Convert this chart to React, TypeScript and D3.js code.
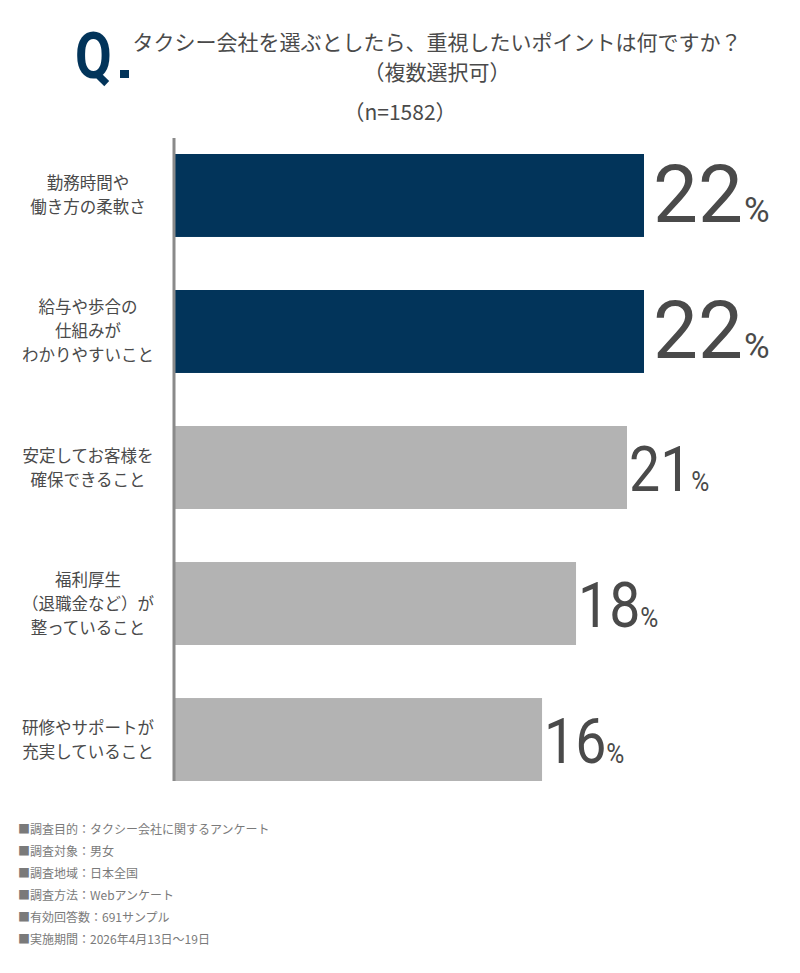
import * as d3 from "d3";

const CATEGORIES = [
  ["勤務時間や", "働き方の柔軟さ"],
  ["給与や歩合の", "仕組みが", "わかりやすいこと"],
  ["安定してお客様を", "確保できること"],
  ["福利厚生", "（退職金など）が", "整っていること"],
  ["研修やサポートが", "充実していること"],
];
const VALUES = [22, 22, 21, 18, 16];
const NOTES = [
  "■調査目的：タクシー会社に関するアンケート",
  "■調査対象：男女",
  "■調査地域：日本全国",
  "■調査方法：Webアンケート",
  "■有効回答数：691サンプル",
  "■実施期間：2026年4月13日～19日",
];

const W = 800;
const H = 973;
const NAVY = "#02345a";
const GRAY = "#b3b3b3";
const TEXT = "#4a4a4a";
const JP = "'Noto Sans CJK JP', 'Noto Sans', sans-serif";
const NUM = "Roboto, 'Noto Sans', sans-serif";

export default function App() {
  const ids = CATEGORIES.map((_, i) => String(i));
  const y = d3.scaleBand().domain(ids).range([154, 781]).paddingInner(0.39).paddingOuter(0);
  // bars in the source don't start from zero, so the domain has an offset
  const x = d3.scaleLinear().domain([-5.6, 22]).range([175, 644]);
  const maxV = d3.max(VALUES) as number;

  return (
    <svg width={W} height={H} style={{ position: "absolute", left: 0, top: 0, background: "#fff" }}>
      {/* title */}
      <text transform="translate(75,78) scale(0.82,1)" fill={NAVY} fontFamily={NUM} fontWeight="bold" fontSize={65}>Q</text>
      <rect x={120} y={70} width={9} height={8} fill={NAVY} />
      <text x={437} y={50} textAnchor="middle" fill={TEXT} fontFamily={JP} fontSize={21}>
        タクシー会社を選ぶとしたら、重視したいポイントは何ですか？
      </text>
      <text x={437} y={80} textAnchor="middle" fill={TEXT} fontFamily={JP} fontSize={21}>（複数選択可）</text>
      <text x={400} y={120} textAnchor="middle" fill={TEXT} fontFamily={JP} fontSize={21}>（n=1582）</text>

      {/* bars */}
      {VALUES.map((v, i) => {
        const top = y(ids[i]) as number;
        const bw = y.bandwidth();
        const hi = v === maxV;
        const end = x(v);
        return (
          <g key={i}>
            <rect x={x(-5.6)} y={top} width={end - x(-5.6)} height={bw} fill={hi ? NAVY : GRAY} />
            <text
              transform={`translate(${end + (hi ? 9 : 2)},${top + bw / 2 + (hi ? 27 : 23)}) scale(${hi ? 1 : 0.88},1)`}
              fill={TEXT}
              fontFamily={NUM}
              fontSize={hi ? 80 : 63}
            >
              {v}
              <tspan fontSize={hi ? 35 : 28} dx={hi ? 1 : 0}>%</tspan>
            </text>
            {CATEGORIES[i].map((line, j) => (
              <text
                key={j}
                x={88}
                y={top + bw / 2 + (j - (CATEGORIES[i].length - 1) / 2) * 24 + 6}
                textAnchor="middle"
                fill={TEXT}
                fontFamily={JP}
                fontSize={16.5}
              >
                {line}
              </text>
            ))}
          </g>
        );
      })}

      {/* axis line */}
      <line x1={174} x2={174} y1={138} y2={781} stroke="#8a8a8a" strokeWidth={3} />

      {/* notes */}
      {NOTES.map((n, i) => (
        <text key={i} x={18} y={834 + i * 22} fill="#7a7a7a" fontFamily={JP} fontSize={12}>{n}</text>
      ))}
    </svg>
  );
}
